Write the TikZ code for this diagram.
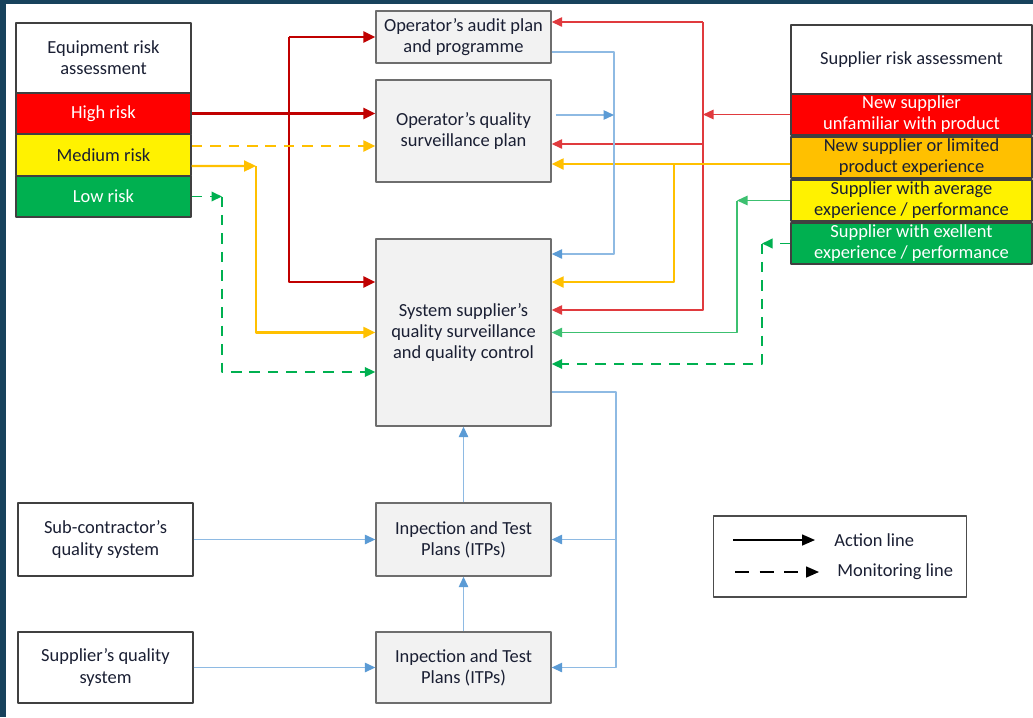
\documentclass[tikz,border=0pt]{standalone}
\usepackage{fontspec}
\setmainfont{Carlito}
\usetikzlibrary{arrows.meta}
\definecolor{bgdark}{HTML}{17425C}
\definecolor{txt}{HTML}{1A1F33}
\definecolor{boxgray}{HTML}{F2F2F2}
\definecolor{edgegray}{HTML}{6E6E6E}
\definecolor{redthick}{HTML}{C00000}
\definecolor{redthin}{HTML}{E03A3E}
\definecolor{orangeA}{HTML}{FFC000}
\definecolor{greenA}{HTML}{00B050}
\definecolor{greenthin}{HTML}{3CC070}
\definecolor{blueline}{HTML}{8EBAE3}
\definecolor{bluetip}{HTML}{5B9BD5}

\begin{document}
\begin{tikzpicture}[line join=round,x=0.02cm,y=-0.02cm,
	font=\fontsize{10.5}{12}\selectfont,text=txt,
	box/.style={draw=edgegray,line width=0.8pt,fill=boxgray,align=center,inner sep=1pt,minimum width=3.5cm},
	lbox/.style={draw=black!75,line width=0.8pt,fill=white,align=center,inner sep=1pt,minimum width=3.5cm},
	rbox/.style={draw=black!75,line width=0.8pt,fill=white,align=center,inner sep=1pt,minimum width=4.82cm},
	bigtip/.style={-{Triangle[length=0.24cm,width=0.22cm]}},
	smalltip/.style={-{Triangle[length=0.21cm,width=0.19cm]}},
	redA/.style={redthick,line width=1.4pt,bigtip},
	redB/.style={redthin,line width=0.75pt,smalltip},
	orangeline/.style={orangeA,line width=1.3pt,bigtip},
	greenD/.style={greenA,line width=1.1pt,smalltip,dash pattern=on 6pt off 4.5pt},
	greenB/.style={greenthin,line width=0.75pt,smalltip},
	blueA/.style={blueline,line width=0.75pt,-{Triangle[length=0.21cm,width=0.19cm,fill=bluetip,color=bluetip]}},
	monitor/.style={dash pattern=on 6pt off 4.5pt}]
	\useasboundingbox (0,0) rectangle (1033,717);
	\fill[bgdark] (0,0) rectangle (1033,717);
	\fill[white] (6,4) rectangle (1033,717);
	% left: equipment risk
	\node[lbox,minimum height=1.4cm] (eqra) at (103.5,58) {Equipment risk\\assessment};
	\node[lbox,fill=red,text=white,minimum height=0.82cm] (high) at (103.5,113.5) {High risk};
	\node[lbox,fill=yellow,minimum height=0.82cm] (medium) at (103.5,155) {Medium risk};
	\node[lbox,fill=greenA,text=white,minimum height=0.82cm] (low) at (103.5,196.5) {Low risk};
	% middle column
	\node[box,minimum height=1.04cm] (audit) at (463.5,37) {Operator’s audit plan\\and programme};
	\node[box,minimum height=2.04cm] (qsp) at (463.5,131) {Operator’s quality\\surveillance plan};
	\node[box,minimum height=3.74cm] (sys) at (463.5,332.5) {System supplier’s\\quality surveillance\\and quality control};
	\node[box,minimum height=1.46cm] (itpa) at (463.5,539.5) {Inpection and Test\\Plans (ITPs)};
	\node[box,minimum height=1.42cm] (itpb) at (463.5,667.5) {Inpection and Test\\Plans (ITPs)};
	% bottom left
	\node[lbox,minimum height=1.46cm] (subq) at (105.5,539.5) {Sub-contractor’s\\quality system};
	\node[lbox,minimum height=1.42cm] (supq) at (105.5,667.5) {Supplier’s quality\\system};
	% right: supplier risk
	\node[rbox,minimum height=1.38cm] (sra) at (911.5,59.5) {Supplier risk assessment};
	\node[rbox,fill=red,text=white,minimum height=0.82cm] (srred) at (911.5,114.5) {New supplier\\unfamiliar with product};
	\node[rbox,fill=orangeA,minimum height=0.82cm] (srorange) at (911.5,157.5) {New supplier or limited\\product experience};
	\node[rbox,fill=yellow,minimum height=0.82cm] (sryellow) at (911.5,200.5) {Supplier with average\\experience / performance};
	\node[rbox,fill=greenA,text=white,minimum height=0.82cm] (srgreen) at (911.5,243.5) {Supplier with exellent\\experience / performance};
	% legend
	\node[draw=black!70,line width=1pt,minimum width=5.06cm,minimum height=1.62cm] (legend) at (840,556.5) {};
	\coordinate (acta) at (733,540);
	\coordinate (actb) at (815,540);
	\coordinate (mona) at (735,572);
	\coordinate (monb) at (819,572);
	\draw[line width=0.9pt,-{Triangle[length=0.26cm,width=0.22cm]}] (acta) -- (actb);
	\draw[line width=0.9pt,dash pattern=on 8pt off 6pt,-{Triangle[length=0.26cm,width=0.22cm]}] (mona) -- (monb);
	\node[anchor=west,inner sep=0pt] (actlbl) at (834,540) {Action line};
	\node[anchor=west,inner sep=0pt] (monlbl) at (837,572) {Monitoring line};
	% junctions
	\coordinate (rtop) at (289,37);
	\coordinate (rbot) at (289,282);
	\coordinate (rvtop) at (703,22);
	\coordinate (rvq) at (703,144);
	\coordinate (rvbot) at (703,310);
	\coordinate (otop) at (674,164);
	\coordinate (obot) at (674,282);
	\coordinate (mj) at (256,166);
	\coordinate (mbot) at (256,332.5);
	\coordinate (lj) at (222,196.5);
	\coordinate (lbot) at (222,372);
	\coordinate (aj) at (737,200.5);
	\coordinate (abot) at (737,332.5);
	\coordinate (ej) at (762,243.5);
	\coordinate (ebot) at (762,364);
	\coordinate (btop) at (614,52);
	\coordinate (bbot) at (614,254);
	\coordinate (bq) at (614,115);
	\coordinate (bsys) at (616,392);
	\coordinate (bitpa) at (616,539.5);
	\coordinate (bitpb) at (616,667.5);
	% red, equipment side
	\draw[redA] (high.east) -- (high.east -| qsp.west);
	\draw[redA] (rtop) -- (audit.west);
	\draw[redA] (rtop) -- (rbot) -- (rbot -| sys.west);
	% red, supplier side
	\draw[redB] (srred.west) -- (srred.west -| rvtop);
	\draw[redB] (rvtop) -- (rvtop -| audit.east);
	\draw[redB] (rvq) -- (rvq -| qsp.east);
	\draw[redB] (rvtop) -- (rvbot) -- (rvbot -| sys.east);
	% orange
	\draw[orangeline] (srorange.west |- otop) -- (otop -| qsp.east);
	\draw[orangeline] (otop) -- (obot) -- (obot -| sys.east);
	\draw[orangeline,monitor] ([yshift=0.18cm]medium.east) -- ([yshift=0.18cm]medium.east -| qsp.west);
	\draw[orangeline] ([yshift=-0.22cm]medium.east) -- (mj);
	\draw[orangeline] (mj) -- (mbot) -- (sys.west);
	% green
	\draw[greenD] (low.east) -- (lj);
	\draw[greenD] (lj) -- (lbot) -- (lbot -| sys.west);
	\draw[greenB] (sryellow.west) -- (aj);
	\draw[greenB] (aj) -- (abot) -- (sys.east);
	\draw[greenD] (srgreen.west) -- (ej);
	\draw[greenD] (ej) -- (ebot) -- (ebot -| sys.east);
	% blue
	\draw[blueA] (audit.east |- btop) -- (btop) -- (bbot) -- (bbot -| sys.east);
	\draw[blueA] ([xshift=0.08cm]qsp.east |- bq) -- (bq);
	\draw[blueA] (sys.east |- bsys) -- (bsys) -- (bitpb) -- (itpb.east);
	\draw[blueA] (bitpa) -- (itpa.east);
	\draw[blueA] (itpb) -- (itpa);
	\draw[blueA] (itpa) -- (sys);
	\draw[blueA] (subq) -- (itpa);
	\draw[blueA] (supq) -- (itpb);
\end{tikzpicture}
\end{document}
